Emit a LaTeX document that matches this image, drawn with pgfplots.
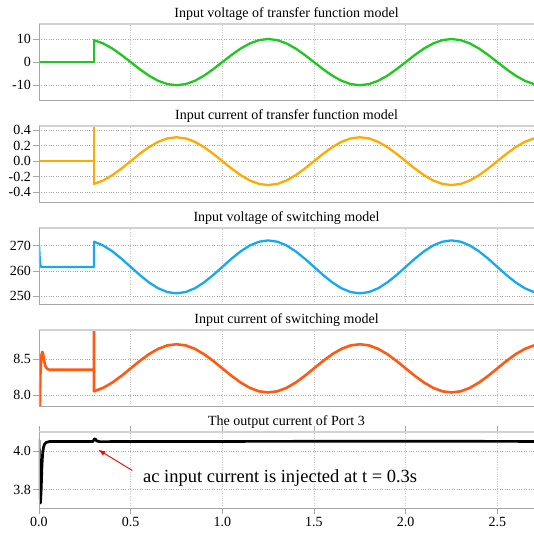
\documentclass[border=0pt]{standalone}
\usepackage{pgfplots}
\pgfplotsset{compat=1.18}
\usepackage{pgfplotstable}
\usepackage{fontspec}
\setmainfont{Liberation Serif}
\usetikzlibrary{arrows.meta}
\definecolor{cgreen}{RGB}{30,200,30}
\definecolor{camber}{RGB}{255,170,0}
\definecolor{cblue}{RGB}{20,170,240}
\definecolor{corange}{RGB}{255,90,20}
\pgfplotstableread{
t v1 i1 v2 i2
0.30 9.51 -0.295 271.59 8.051
0.35 8.09 -0.251 270.10 8.099
0.40 5.88 -0.182 267.79 8.173
0.45 3.09 -0.096 264.88 8.266
0.50 0 0 261.65 8.370
0.55 -3.09 0.096 258.42 8.474
0.60 -5.88 0.182 255.51 8.567
0.65 -8.09 0.251 253.20 8.641
0.70 -9.51 0.295 251.71 8.689
0.75 -10 0.310 251.20 8.705
0.80 -9.51 0.295 251.71 8.689
0.85 -8.09 0.251 253.20 8.641
0.90 -5.88 0.182 255.51 8.567
0.95 -3.09 0.096 258.42 8.474
1.00 0 0 261.65 8.370
1.05 3.09 -0.096 264.88 8.266
1.10 5.88 -0.182 267.79 8.173
1.15 8.09 -0.251 270.10 8.099
1.20 9.51 -0.295 271.59 8.051
1.25 10 -0.310 272.10 8.035
1.30 9.51 -0.295 271.59 8.051
1.35 8.09 -0.251 270.10 8.099
1.40 5.88 -0.182 267.79 8.173
1.45 3.09 -0.096 264.88 8.266
1.50 0 0 261.65 8.370
1.55 -3.09 0.096 258.42 8.474
1.60 -5.88 0.182 255.51 8.567
1.65 -8.09 0.251 253.20 8.641
1.70 -9.51 0.295 251.71 8.689
1.75 -10 0.310 251.20 8.705
1.80 -9.51 0.295 251.71 8.689
1.85 -8.09 0.251 253.20 8.641
1.90 -5.88 0.182 255.51 8.567
1.95 -3.09 0.096 258.42 8.474
2.00 0 0 261.65 8.370
2.05 3.09 -0.096 264.88 8.266
2.10 5.88 -0.182 267.79 8.173
2.15 8.09 -0.251 270.10 8.099
2.20 9.51 -0.295 271.59 8.051
2.25 10 -0.310 272.10 8.035
2.30 9.51 -0.295 271.59 8.051
2.35 8.09 -0.251 270.10 8.099
2.40 5.88 -0.182 267.79 8.173
2.45 3.09 -0.096 264.88 8.266
2.50 0 0 261.65 8.370
2.55 -3.09 0.096 258.42 8.474
2.60 -5.88 0.182 255.51 8.567
2.65 -8.09 0.251 253.20 8.641
2.70 -9.51 0.295 251.71 8.689
}\sine
\pgfplotsset{
 panel/.style={
  scale only axis, width=495pt, height=76pt, xmin=0, xmax=2.7,
  anchor=south west,
  xtick={0,0.5,1,1.5,2,2.5},
  grid=major,
  x grid style={gray!45, dotted, line width=0.6pt},
  y grid style={gray!70, dotted, line width=0.7pt},
  axis line style={draw=none},
  tick align=outside, major tick length=6pt,
  ytick style={draw=gray!70, line width=0.8pt},
  yticklabel style={font=\fontsize{14}{16}\selectfont, inner xsep=2pt},
  title style={anchor=base, font=\fontsize{14}{16}\selectfont, inner sep=0pt},
  clip mode=individual,
  every axis plot/.append style={line width=2.3pt, line join=round, line cap=round},
  extra description/.code={
    \draw[gray!35, line width=1.6pt] (0,1) -- (1,1);
    \draw[gray!70, line width=0.9pt] (0,1) -- (0,0) -- (1,0);
  },
 },
 noxt/.style={xticklabels={}, xtick style={draw=none}},
}
\begin{document}
\begin{tikzpicture}
\path[use as bounding box] (-39pt,0pt) rectangle (495pt,536pt);
% Panel 1
\begin{axis}[panel, noxt, at={(0pt,436pt)}, ymin=-16.4, ymax=16.5,
  ytick={-10,0,10}, yticklabels={\textnormal{-10},\textnormal{0},\textnormal{10}},
  title={Input voltage of transfer function model}]
\addplot[cgreen] coordinates {(0,0) (0.3,0) (0.3,9.51)};
\addplot[cgreen] table[x=t,y=v1] {\sine};
\end{axis}
% Panel 2
\begin{axis}[panel, noxt, at={(0pt,334pt)}, ymin=-0.53, ymax=0.456,
  ytick={-0.4,-0.2,0,0.2,0.4}, yticklabels={\textnormal{-0.4},\textnormal{-0.2},\textnormal{0.0},\textnormal{0.2},\textnormal{0.4}},
  title={Input current of transfer function model}]
\addplot[camber] coordinates {(0,0) (0.3,0) (0.3,0.6) (0.3,-0.295)};
\addplot[camber] table[x=t,y=i1] {\sine};
\end{axis}
% Panel 3
\begin{axis}[panel, noxt, at={(0pt,232pt)}, ymin=247.0, ymax=277.0,
  ytick={250,260,270}, yticklabels={\textnormal{250},\textnormal{260},\textnormal{270}},
  title={Input voltage of switching model}]
\addplot[cblue] coordinates {(0,270.5) (0.003,266) (0.007,262.5) (0.012,261.6) (0.3,261.6) (0.3,271.59)};
\addplot[cblue] table[x=t,y=v2] {\sine};
\end{axis}
% Panel 4
\begin{axis}[panel, noxt, at={(0pt,130pt)}, ymin=7.847, ymax=8.903,
  ytick={8.0,8.5}, yticklabels={\textnormal{8.0},\textnormal{8.5}},
  title={Input current of switching model}]
\addplot[corange, line width=2.6pt] coordinates {(0,7.7) (0.004,7.75) (0.008,8.3) (0.013,8.55) (0.018,8.6) (0.022,8.58) (0.028,8.47) (0.035,8.40) (0.045,8.36) (0.06,8.35) (0.3,8.35) (0.3,9.2) (0.3,8.051)};
\addplot[corange, line width=2.6pt] table[x=t,y=i2] {\sine};
\end{axis}
% Panel 5
\begin{axis}[panel, at={(0pt,28pt)}, ymin=3.704, ymax=4.099,
  ytick={3.8,4.0}, yticklabels={\textnormal{3.8},\textnormal{4.0}},
  xticklabels={\textnormal{0.0},\textnormal{0.5},\textnormal{1.0},\textnormal{1.5},\textnormal{2.0},\textnormal{2.5}},
  xtick style={draw=gray!70, line width=0.8pt},
  xticklabel style={font=\fontsize{14}{16}\selectfont},
  title={The output current of Port 3}]
\addplot[black, line width=2.7pt] coordinates {(0,4.055) (0.004,3.85) (0.008,3.73) (0.012,3.80) (0.016,3.92) (0.02,3.99) (0.025,4.02) (0.03,4.035) (0.04,4.045) (0.06,4.05) (0.295,4.05) (0.302,4.063) (0.308,4.062) (0.315,4.052) (0.33,4.049) (1.0,4.05) (2.0,4.051) (2.7,4.05)};
\draw[-{Latex[length=7pt,width=5pt]}, red, line width=0.9pt] (axis cs:0.509,3.899) -- (axis cs:0.323,4.007);
\node[anchor=base west, inner sep=0pt, font=\fontsize{18.5}{20}\selectfont] at (axis cs:0.567,3.838) {ac input current is injected at t = 0.3s};
\end{axis}
\end{tikzpicture}
\end{document}
